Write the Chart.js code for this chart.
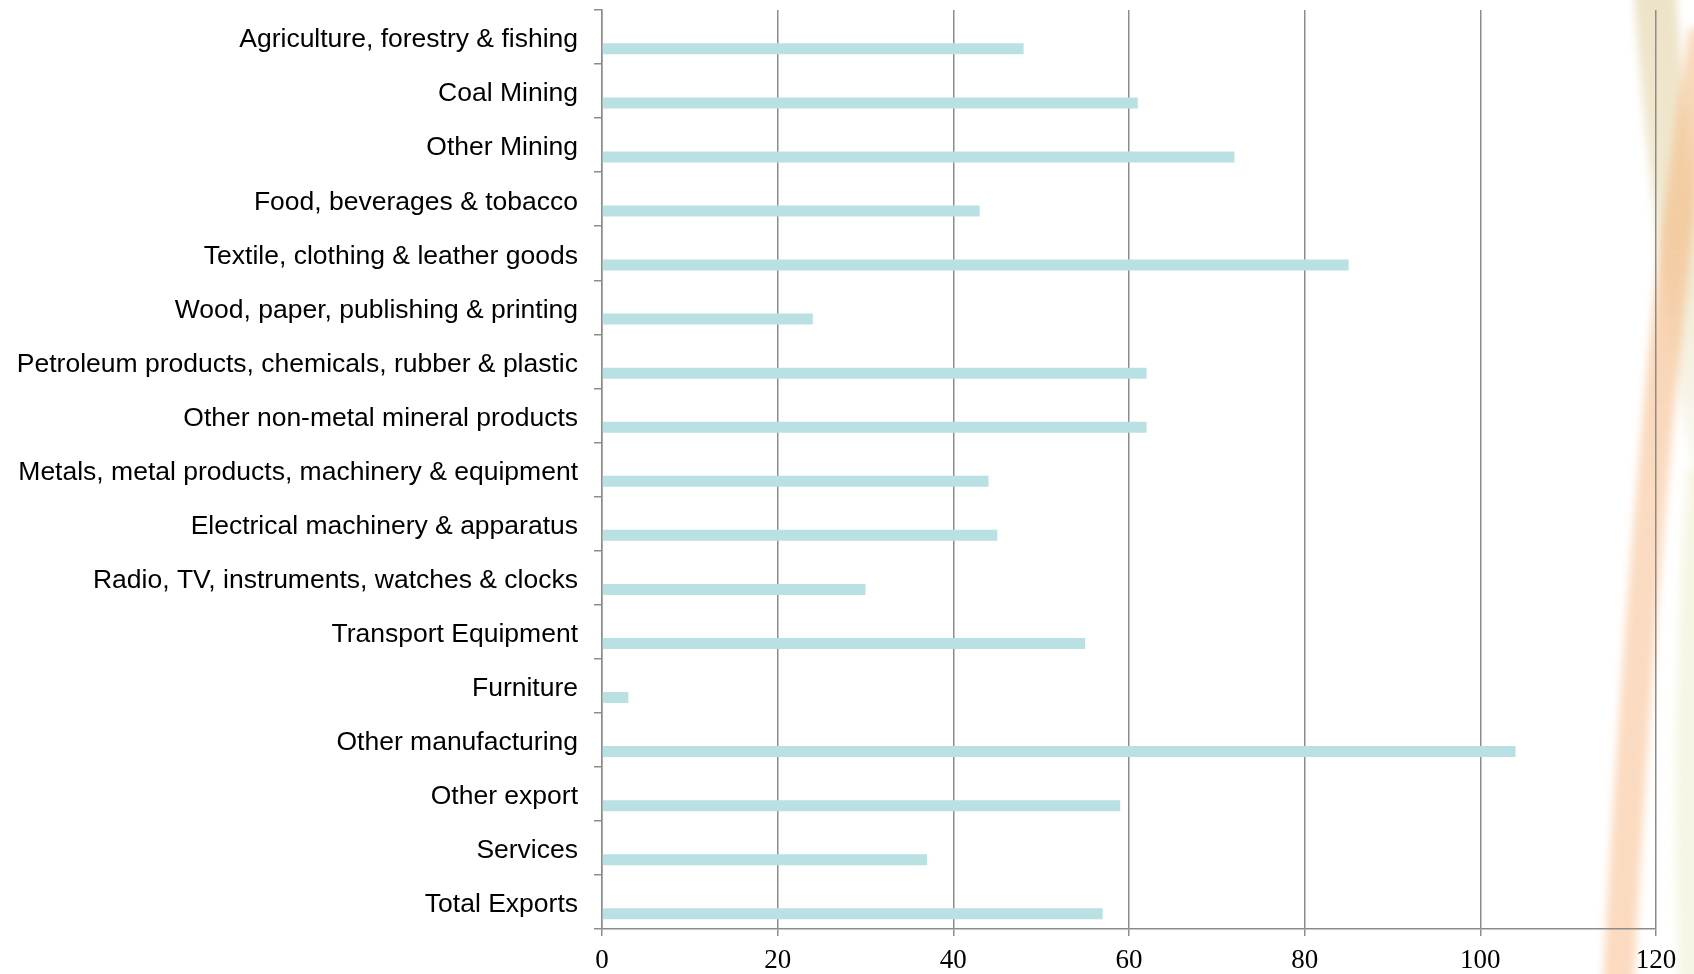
<!DOCTYPE html>
<html>
<head>
<meta charset="utf-8">
<script src="https://cdn.jsdelivr.net/npm/chart.js@4.4.0/dist/chart.umd.min.js"></script>
<style>
  html, body { margin: 0; padding: 0; background: #fff; }
  #grafico { display: block; }
</style>
</head>
<body>
<canvas id="grafico" width="1694" height="974"></canvas>
<script>
var setores = [
  "Agriculture, forestry & fishing",
  "Coal Mining",
  "Other Mining",
  "Food, beverages & tobacco",
  "Textile, clothing & leather goods",
  "Wood, paper, publishing & printing",
  "Petroleum products, chemicals, rubber & plastic",
  "Other non-metal mineral products",
  "Metals, metal products, machinery & equipment",
  "Electrical machinery & apparatus",
  "Radio, TV, instruments, watches & clocks",
  "Transport Equipment",
  "Furniture",
  "Other manufacturing",
  "Other export",
  "Services",
  "Total Exports"
];
var valores = [48, 61, 72, 43, 85, 24, 62, 62, 44, 45, 30, 55, 3, 104, 59, 37, 57];
// serie vazia: ocupa a metade de cima de cada faixa, como no grafico original
var vazia = [null, null, null, null, null, null, null, null, null, null, null, null, null, null, null, null, null];
var ticksX = [0, 20, 40, 60, 80, 100, 120];

var cinza = "#8c8c8c";

// faixas decorativas do fundo (lado direito)
var faixas = {
  id: "faixas",
  beforeDraw: function (chart) {
    var ctx = chart.ctx;
    ctx.save();
    ctx.filter = "blur(4px)";
    ctx.lineCap = "butt";

    // faixa bege, de cima para a direita
    var bege = ctx.createLinearGradient(0, 0, 0, 470);
    bege.addColorStop(0, "rgba(234, 222, 190, 0.85)");
    bege.addColorStop(0.6, "rgba(236, 226, 194, 0.7)");
    bege.addColorStop(1, "rgba(240, 236, 210, 0.3)");
    ctx.strokeStyle = bege;
    ctx.lineWidth = 42;
    ctx.beginPath();
    ctx.moveTo(1654, -20);
    ctx.quadraticCurveTo(1670, 220, 1712, 470);
    ctx.stroke();

    // faixa amarelada clara embaixo
    ctx.strokeStyle = "rgba(240, 238, 206, 0.55)";
    ctx.lineWidth = 26;
    ctx.beginPath();
    ctx.moveTo(1700, 470);
    ctx.quadraticCurveTo(1682, 720, 1692, 990);
    ctx.stroke();

    // faixa pessego, curva
    var grad = ctx.createLinearGradient(0, 30, 0, 974);
    grad.addColorStop(0, "rgba(245, 198, 152, 0.6)");
    grad.addColorStop(0.2, "rgba(244, 196, 150, 0.8)");
    grad.addColorStop(0.5, "rgba(249, 208, 174, 0.75)");
    grad.addColorStop(1, "rgba(251, 212, 180, 0.85)");
    ctx.strokeStyle = grad;
    ctx.lineWidth = 31;
    ctx.beginPath();
    ctx.moveTo(1704, 30);
    ctx.quadraticCurveTo(1650, 385, 1618, 990);
    ctx.stroke();
    ctx.restore();
  }
};

var config = {
  type: "bar",
  data: {
    labels: setores,
    datasets: [
      { data: vazia, backgroundColor: "#b9e0e3" },
      { data: valores, backgroundColor: "#b9e0e3" }
    ]
  },
  options: {
    indexAxis: "y",
    responsive: false,
    animation: false,
    devicePixelRatio: 1,
    categoryPercentage: 0.873,
    barPercentage: 0.466,
    layout: { padding: { top: 10, right: 38, bottom: 0, left: 0 } },
    scales: {
      y: {
        grid: { offset: true, drawOnChartArea: false, tickLength: 8, color: cinza, lineWidth: 1.5 },
        border: { color: cinza, width: 1.5 },
        ticks: {
          autoSkip: false,
          color: "#000",
          padding: 16,
          labelOffset: 3,
          font: { family: "Liberation Sans", size: 26.5 }
        },
        afterFit: function (scale) {
          scale.width = 602;
          scale.paddingTop = 0;
          scale.paddingBottom = 0;
        }
      },
      x: {
        min: ticksX[0],
        max: ticksX[ticksX.length - 1],
        grid: { color: cinza, lineWidth: 1.5, tickLength: 7 },
        border: { color: cinza, width: 1.5 },
        ticks: {
          stepSize: ticksX[1] - ticksX[0],
          color: "#000",
          padding: 9,
          font: { family: "Liberation Serif", size: 27 }
        },
        afterFit: function (scale) { scale.height = 45; }
      }
    },
    plugins: {
      legend: { display: false },
      tooltip: { enabled: false }
    }
  },
  plugins: [faixas]
};

var myChart = new Chart(document.getElementById("grafico"), config);
</script>
</body>
</html>
